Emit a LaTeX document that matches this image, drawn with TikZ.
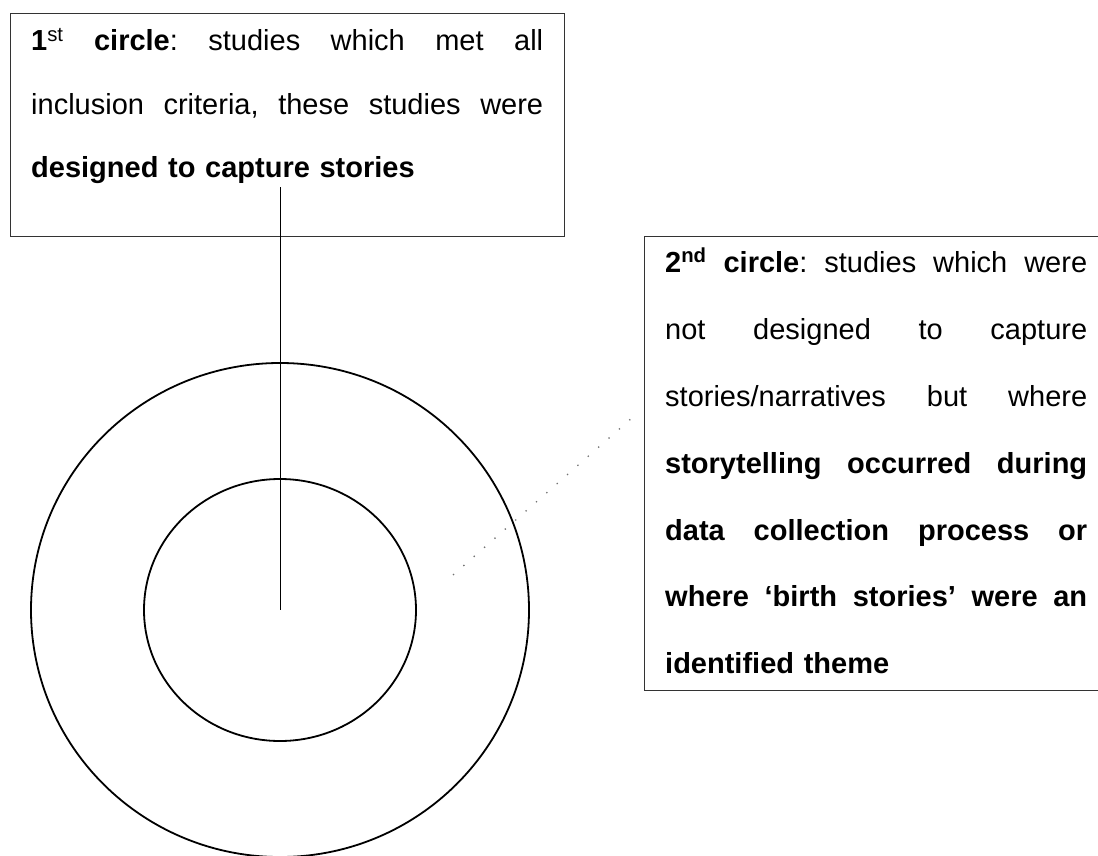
\documentclass[tikz,border=0pt]{standalone}
\usepackage{fontspec}
\setmainfont{Liberation Sans}
\usetikzlibrary{shapes.geometric}
\newcommand{\jlineA}[1]{\makebox[512pt][l]{#1}}
\newcommand{\jlineB}[1]{\makebox[422pt][l]{#1}}
\newcommand{\gap}{\hfill}
\begin{document}
\begin{tikzpicture}[x=1pt,y=-1pt,
  framebox/.style={draw=black!80, line width=1.3pt, inner sep=0pt, anchor=north west},
  ring/.style={draw=black, line width=1.8pt, ellipse, inner sep=0pt},
  bodytext/.style={inner sep=0pt, anchor=base west, align=left},
  lead/.style={line width=1pt, black},
  dotlead/.style={line width=1.3pt, black!55, dash pattern=on 1.3pt off 12.5pt}]
\useasboundingbox (0,0) rectangle (1098,856);
\fill[white] (0,0) rectangle (1098,856);
% boxes
\node[framebox, minimum width=554pt, minimum height=223pt] (box1) at (10,13) {};
\node[framebox, minimum width=458pt, minimum height=454pt] (box2) at (644,236) {};
% texts
\node[bodytext, text width=512pt, font=\fontsize{29}{63.5}\selectfont\frenchspacing] (text1) at (31,51) {%
\jlineA{\textbf{1}\textsuperscript{st}\gap\textbf{circle}:\gap studies\gap which\gap met\gap all}\\
\jlineA{inclusion\gap criteria,\gap these\gap studies\gap were}\\
\textbf{designed to capture stories}};
\node[bodytext, text width=422pt, font=\fontsize{29}{67}\selectfont\frenchspacing] (text2) at (665,272) {%
\jlineB{\textbf{2\textsuperscript{nd}}\gap\textbf{circle}:\gap studies\gap which\gap were}\\
\jlineB{not\gap designed\gap to\gap capture}\\
\jlineB{stories/narratives\gap but\gap where}\\
\jlineB{\textbf{storytelling\gap occurred\gap during}}\\
\jlineB{\textbf{data\gap collection\gap process\gap or}}\\
\jlineB{\textbf{where\gap ‘birth\gap stories’\gap were\gap an}}\\
\textbf{identified theme}};
% circles
\coordinate (c) at (280,610);
\node[ring, minimum width=498pt, minimum height=494pt] (outer) at (c) {};
\node[ring, minimum width=272pt, minimum height=262pt] (inner) at (c) {};
% connectors
\coordinate (lineTop) at (280,187);
\draw[lead] (lineTop) -- (c);
\coordinate (dotA) at (453,575);
\coordinate (dotB) at (633,417);
\draw[dotlead] (dotA) -- (dotB);
\end{tikzpicture}
\end{document}
